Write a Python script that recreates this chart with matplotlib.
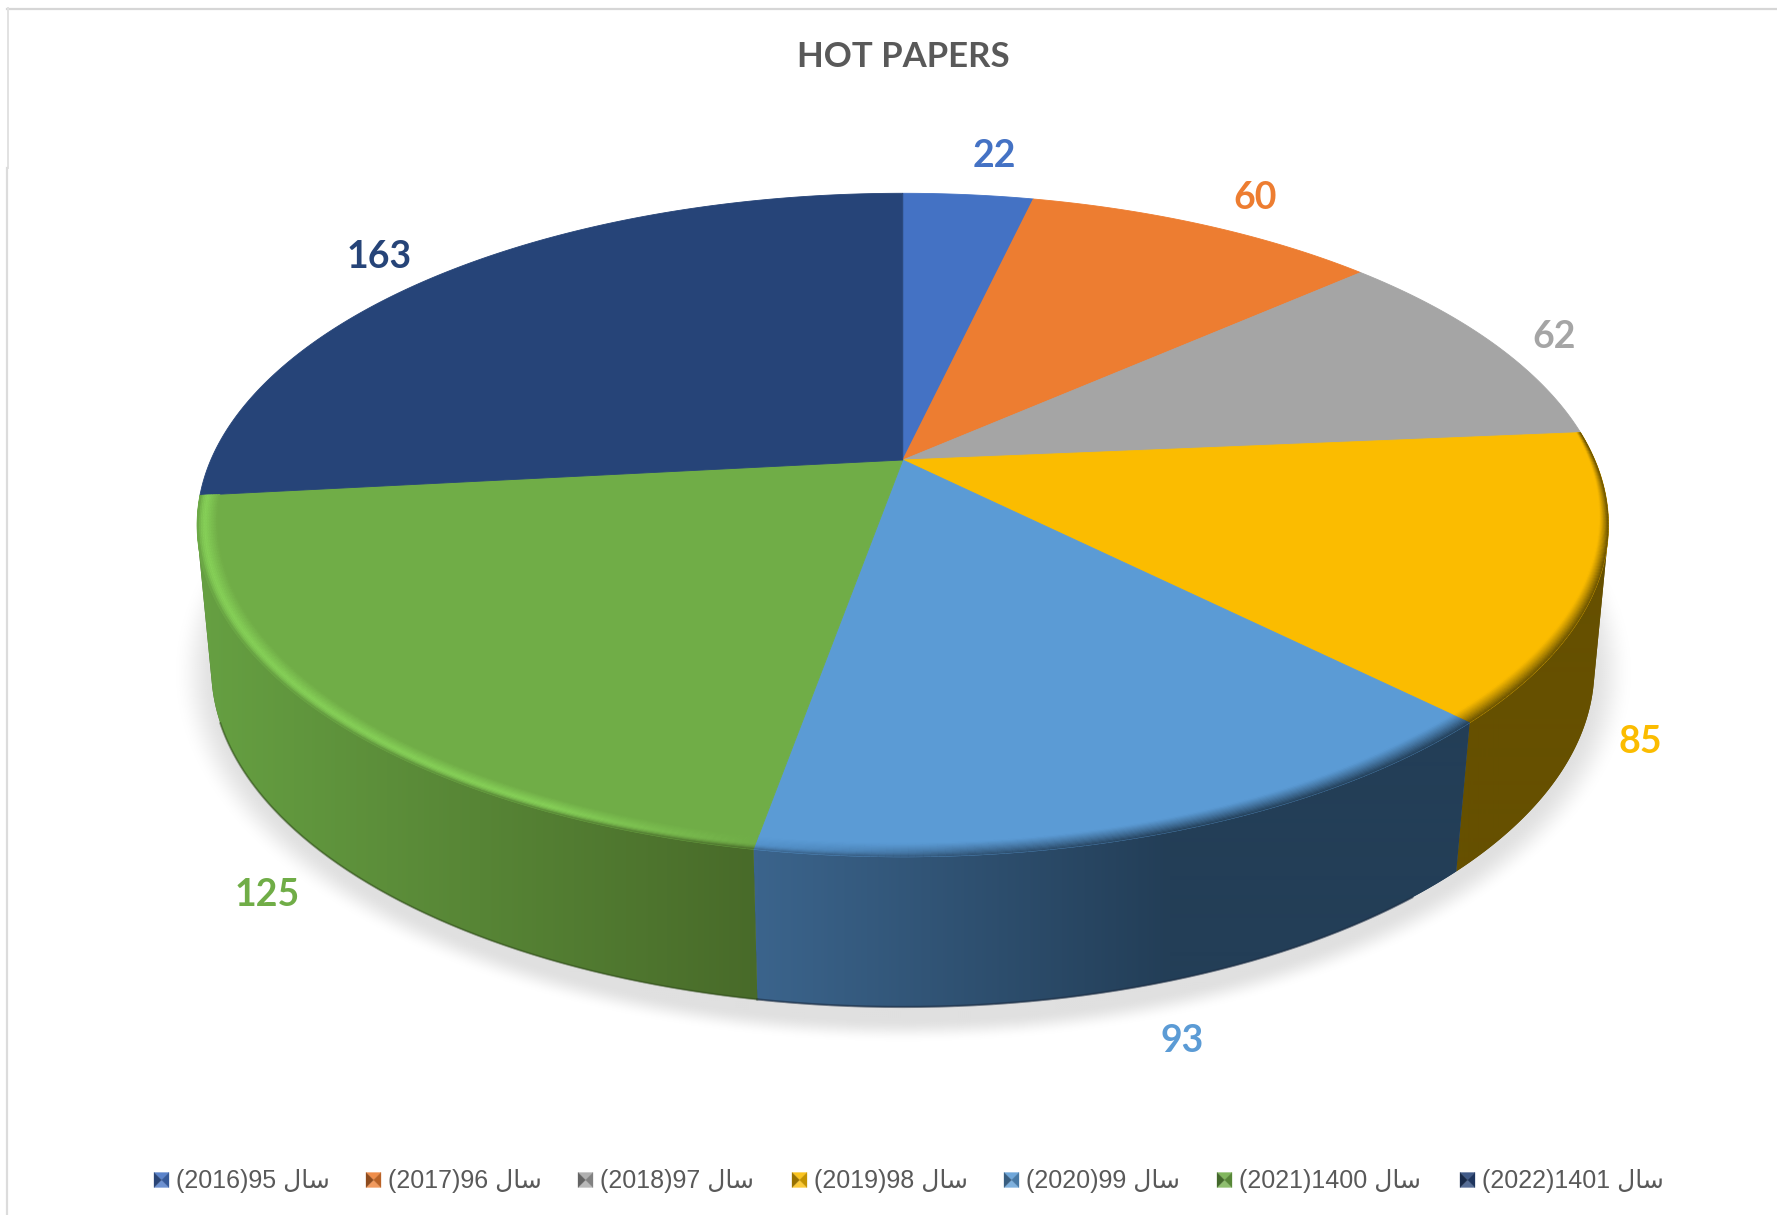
import numpy as np
import matplotlib
matplotlib.use("Agg")
import matplotlib.pyplot as plt
from matplotlib.collections import PolyCollection
from matplotlib.patches import Polygon
from matplotlib.colors import to_rgb

# ---- data ----
values = [22, 60, 62, 85, 93, 125, 163]
legend_years = ["(2016)95", "(2017)96", "(2018)97", "(2019)98", "(2020)99", "(2021)1400", "(2022)1401"]
# "sal" in shaped, visual-order Arabic presentation forms
year_word = "\uFEDD\uFE8E\uFEB3"
title = "HOT PAPERS"
colors = ["#4472C4", "#ED7D31", "#A5A5A5", "#FBBC00", "#5B9BD5", "#70AD47", "#264478"]

# ---- layout ----
W, H = 1777, 1215
TOP = dict(cx=902.8, cy=460.0, a=692.0, b=319.0, k=0.196)
BOT = dict(cx=902.8, cy=604.0, a=679.0, b=326.4, k=0.19)
label_xy = [(994, 156), (1255, 198), (1554, 337), (1640, 742), (1182, 1041), (267, 895), (379, 257)]
legend_x = [154, 366, 578, 792, 1004, 1217, 1460]
legend_y = 1180
side_left = {3: "#665000", 4: "#3b648c", 5: "#66a042"}
side_right = {3: "#665000", 4: "#233e57", 5: "#486a29"}
side_x = {3: (1450, 1610), 4: (758, 1170), 5: (200, 760)}


def project(theta_deg, r, p):
    t = np.radians(theta_deg)
    u, v = r * np.sin(t), r * np.cos(t)
    d = 1 + p["k"] * v
    return p["cx"] + p["a"] * u / d, p["cy"] - p["b"] * v / d


def mix(c1, c2, s):
    return tuple((1 - s) * a + s * b for a, b in zip(c1, c2))


def hull(points):
    pts = sorted(map(tuple, points))
    def half(seq):
        out = []
        for p in seq:
            while len(out) > 1 and ((out[-1][0] - out[-2][0]) * (p[1] - out[-2][1])
                                    - (out[-1][1] - out[-2][1]) * (p[0] - out[-2][0])) <= 0:
                out.pop()
            out.append(p)
        return out[:-1]
    return np.array(half(pts) + half(pts[::-1]))


fig = plt.figure(figsize=(W / 100, H / 100), dpi=100, facecolor="white")
ax = fig.add_axes([0, 0, 1, 1])
ax.set_xlim(0, W)
ax.set_ylim(H, 0)
ax.axis("off")

# frame
ax.plot([7, W], [8.5, 8.5], color="#d6d6d6", lw=1.6, zorder=1)
ax.plot([7.5, 7.5], [8, 168], color="#e2e2e2", lw=1.4, zorder=1)
ax.plot([6.5, 6.5], [168, H], color="#dcdcdc", lw=1.6, zorder=1)

# soft shadow
gx, gy = np.meshgrid(np.arange(0, W, 2.0), np.arange(0, H, 2.0))
dist = np.sqrt(((gx - 903) / 730) ** 2 + ((gy - 672) / 370) ** 2)
s = np.clip((1.0 - dist) / 0.06, 0, 1)
alpha = s * s * (3 - 2 * s) * 0.6
rgba = np.zeros(gx.shape + (4,))
rgba[..., :3] = 0.80
rgba[..., 3] = alpha
ax.imshow(rgba, extent=(0, W, H, 0), aspect="auto", interpolation="bilinear", zorder=2)

edges = np.cumsum([0] + values) / sum(values) * 360.0

# side wall: a horizontal gradient clipped to each slice's wall outline
for i in (3, 4, 5):
    th = np.linspace(edges[i], edges[i + 1], 300)
    xt, yt = project(th, 1, TOP)
    xb, yb = project(th, 1, BOT)
    outline = hull(np.column_stack([np.r_[xt, xb], np.r_[yt, yb]]))
    wall = Polygon(outline, closed=True, facecolor=side_right[i], edgecolor="none", zorder=3)
    ax.add_patch(wall)
    lo, hi = side_x[i]
    f = np.clip((np.arange(0, W, 1.0) - lo) / (hi - lo), 0, 1)[None, :, None]
    grad = (1 - f) * np.array(to_rgb(side_left[i]))[None, None, :] + f * np.array(to_rgb(side_right[i]))[None, None, :]
    im = ax.imshow(grad, extent=(0, W, H, 0), aspect="auto", interpolation="bilinear", zorder=3)
    im.set_clip_path(wall)
ax.set_xlim(0, W)
ax.set_ylim(H, 0)

# dark foot line on the wall
th = np.linspace(edges[4] + 5, edges[5], 200)
fx, fy = project(th, 1, BOT)
ax.plot(fx, fy, color="#1f3046", lw=1.6, alpha=0.6, zorder=3.5)
th = np.linspace(edges[5], edges[5] + 60, 200)
fx, fy = project(th, 1, BOT)
ax.plot(fx, fy, color="#2f4a1a", lw=1.5, alpha=0.5, zorder=3.5)

# top face slices
for i, col in enumerate(colors):
    th = np.linspace(edges[i], edges[i + 1], 200)
    x, y = project(th, 1, TOP)
    ax.add_patch(Polygon(np.column_stack([np.r_[TOP["cx"], x], np.r_[TOP["cy"], y]]),
                         closed=True, facecolor=col, edgecolor=col, linewidth=0.6, zorder=4))

# bevel of the top face
bright = {3: "#fbbc00", 4: "#5fa9ec", 5: "#86d058"}
polys, cols = [], []
radial = np.linspace(0, 1, 13)
for i in (3, 4, 5):
    face = to_rgb(colors[i])
    th = np.arange(edges[i], edges[i + 1], 0.5)
    th = np.append(th, edges[i + 1])
    for t0, t1 in zip(th[:-1], th[1:]):
        tm = (t0 + t1) / 2
        width = 0.028 * np.clip((tm - 70) / 70, 0.2, 1)
        light = np.clip((tm - 175) / 30, 0, 1)
        xs, _ = project(tm, 1, BOT)
        lo, hi = side_x[i]
        f = np.clip((xs - lo) / (hi - lo), 0, 1)
        side = mix(to_rgb(side_left[i]), to_rgb(side_right[i]), f)
        lit = to_rgb(bright[i])
        for s0, s1 in zip(radial[:-1], radial[1:]):
            r0, r1 = 1 - width * (1 - s0), 1 - width * (1 - s1)
            sm = (s0 + s1) / 2
            # lit profile: face -> highlight -> wall colour; shaded profile: face -> wall colour
            if sm < 0.6:
                c_lit = mix(face, lit, sm / 0.6)
            else:
                c_lit = mix(lit, side, ((sm - 0.6) / 0.4) ** 2)
            c_dark = mix(face, side, sm ** 1.2)
            c = mix(c_dark, c_lit, light)
            x0, y0 = project(t0, r0, TOP)
            x1, y1 = project(t1, r0, TOP)
            x2, y2 = project(t1, r1, TOP)
            x3, y3 = project(t0, r1, TOP)
            polys.append([(x0, y0), (x1, y1), (x2, y2), (x3, y3)])
            cols.append(c)
ax.add_collection(PolyCollection(polys, facecolors=cols, edgecolors=cols, linewidths=0.3, zorder=5))

# title and data labels
ax.text(903, 57, title, ha="center", va="center", fontsize=25, fontweight="bold",
        family="Lato", color="#595959", zorder=6)
for v, c, (x, y) in zip(values, colors, label_xy):
    ax.text(x, y, str(v), ha="center", va="center", fontsize=27, fontweight="bold",
            family="Lato", color=c, zorder=6)

# legend
ms = 15
for x0, year, col in zip(legend_x, legend_years, colors):
    c = to_rgb(col)
    x1, y0, y1 = x0 + ms, legend_y - ms / 2, legend_y + ms / 2
    xc, yc = x0 + ms / 2, legend_y
    tris = [([(x0, y0), (x1, y0), (xc, yc)], mix(c, (1, 1, 1), 0.12)),
            ([(x0, y1), (x1, y1), (xc, yc)], mix(c, (1, 1, 1), 0.22)),
            ([(x0, y0), (x0, y1), (xc, yc)], mix(c, (0, 0, 0), 0.40)),
            ([(x1, y0), (x1, y1), (xc, yc)], mix(c, (0, 0, 0), 0.22))]
    for pts, tc in tris:
        ax.add_patch(Polygon(pts, closed=True, facecolor=tc, edgecolor=tc, linewidth=0.2, zorder=6))
    ax.text(x0 + ms + 7, legend_y + 1, year + " " + year_word, ha="left", va="center", fontsize=18,
            family=["Liberation Sans", "DejaVu Sans"], color="#595959", zorder=6)

fig.savefig("out.png", dpi=100, facecolor="white")
